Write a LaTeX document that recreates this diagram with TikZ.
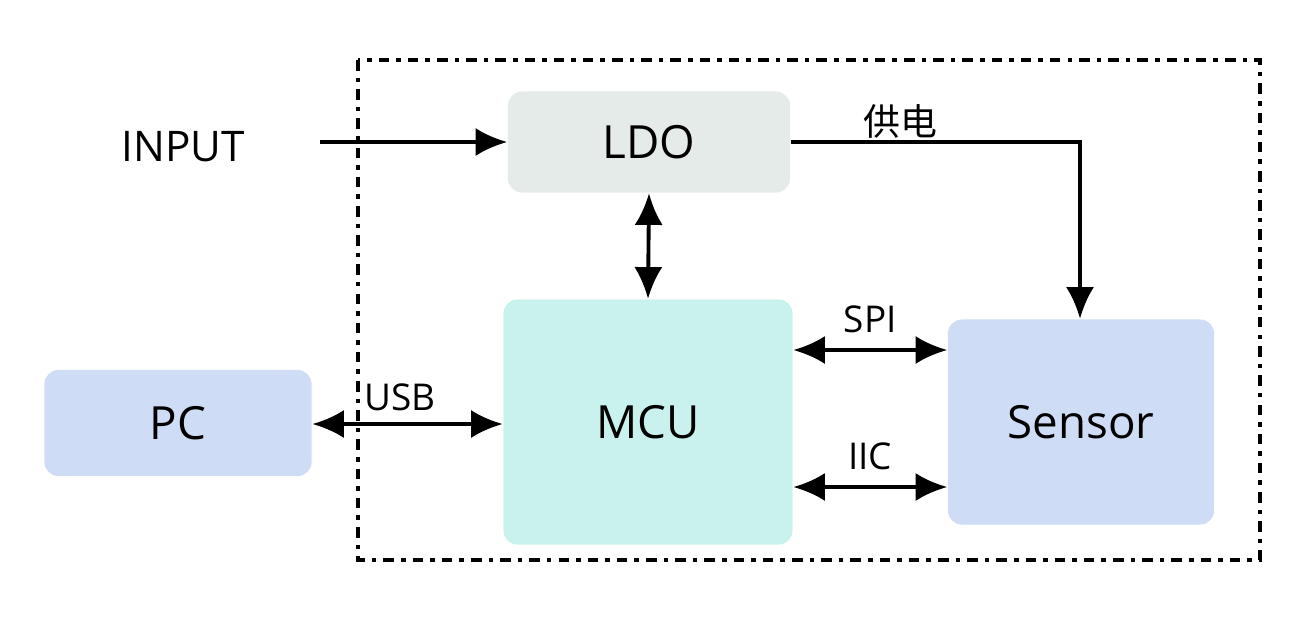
\documentclass[tikz,border=0pt]{standalone}
\usepackage{fontspec}
\setmainfont{Open Sans}
\newfontfamily\cjk{Noto Sans CJK SC}
\usetikzlibrary{positioning,arrows.meta}
\definecolor{ldofill}{HTML}{E5EBE8}
\definecolor{mcufill}{HTML}{C9F2EE}
\definecolor{bluefill}{HTML}{CEDCF6}
\begin{document}
\begin{tikzpicture}[x=0.01cm,y=-0.01cm,
  block/.style={draw=none, rounded corners=4pt, font=\fontsize{13}{15}\selectfont, inner sep=0pt},
  link/.style={line width=1.1pt, -{Latex[length=9pt,width=8pt]}},
  both/.style={line width=1.1pt, {Latex[length=9pt,width=8pt]}-{Latex[length=9pt,width=8pt]}},
  lbl/.style={font=\fontsize{10.5}{12}\selectfont}]
\useasboundingbox (0,0) rectangle (1300,635);
\draw[line width=1.3pt, dash dot] (358,60) rectangle (1260,560);
\node[block, fill=ldofill, minimum width=2.82cm, minimum height=1.01cm] (LDO) at (649,142) {LDO};
\node[block, fill=mcufill, minimum width=2.89cm, minimum height=2.45cm] (MCU) at (648,422) {MCU};
\node[block, fill=bluefill, minimum width=2.67cm, minimum height=1.06cm] (PC) at (178,423) {PC};
\node[block, fill=bluefill, minimum width=2.66cm, minimum height=2.05cm] (Sensor) at (1081,422) {Sensor};
\node[font=\fontsize{12}{14}\selectfont] (INPUT) at (183,147) {INPUT};
\coordinate (in) at (320,142);
\coordinate (corner) at (1080,142);
\draw[link] (in) -- (LDO.west);
\draw[link] (LDO.east) -- (corner) -- (Sensor.north -| corner);
\node[lbl] at (900,121) {\cjk 供电};
\draw[both] (LDO.south) -- (MCU.north);
\draw[both] (MCU.east |- 0,350) -- node[lbl, above=1pt] {SPI} (Sensor.west |- 0,350);
\draw[both] (MCU.east |- 0,487) -- node[lbl, above=1pt] {IIC} (Sensor.west |- 0,487);
\draw[both] (PC.east |- 0,424) -- (MCU.west |- 0,424);
\node[lbl] at (400,397) {USB};
\end{tikzpicture}
\end{document}
